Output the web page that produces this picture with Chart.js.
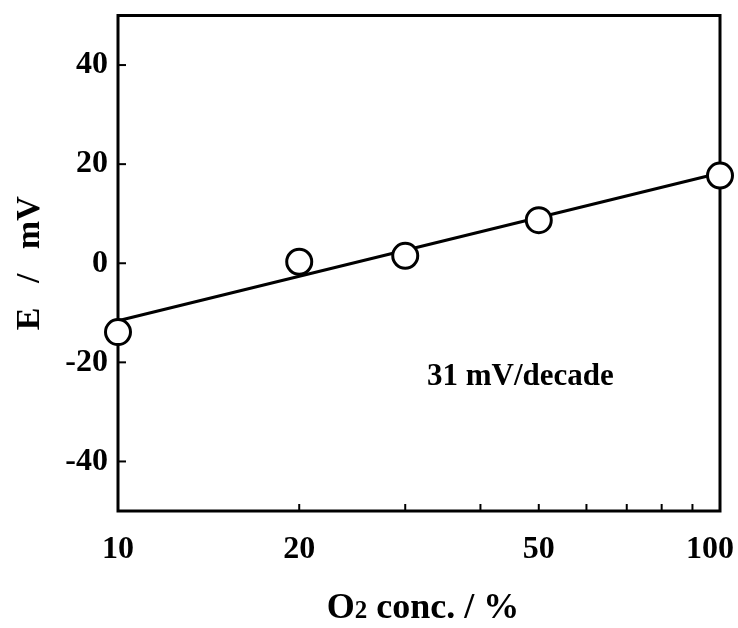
<!DOCTYPE html>
<html>
<head>
<meta charset="utf-8">
<script src="https://cdn.jsdelivr.net/npm/chart.js@4.4.1/dist/chart.umd.min.js"></script>
<style>
  html, body { margin: 0; padding: 0; background: #ffffff; }
  #c { display: block; }
</style>
</head>
<body>
<canvas id="c" width="738" height="628"></canvas>
<script>
// ---- data ----
const o2Concentrations = [10, 20, 30, 50, 100];      // %
const potentials = [-13.9, 0.3, 1.5, 8.7, 17.7];      // mV
const fitConcentrations = [10, 100];
const fitPotentials = [-11.6, 18.2];
const xTickValues = [10, 20, 50, 100];
const xTickLabels = ['10', '20', '50', '100'];
const xMinorTickValues = [20, 30, 40, 50, 60, 70, 80, 90];
const yTickValues = [40, 20, 0, -20, -40];
const yTickLabels = ['40', '20', '0', '-20', '-40'];
const xAxisTitleMain = 'O';
const xAxisTitleSub = '2';
const xAxisTitleRest = ' conc. / %';
const yAxisTitle = 'E / mV';
const slopeLabel = '31 mV/decade';
const slopeLabelAt = { x: 32.6, y: -23 };

const FONT = '"Liberation Serif", "Times New Roman", serif';

const framePlugin = {
  id: 'frame',
  beforeDatasetsDraw(chart) {
    const { ctx, chartArea: a, scales } = chart;
    ctx.save();
    ctx.strokeStyle = '#000';
    ctx.lineWidth = 3;
    ctx.lineCap = 'square';
    ctx.strokeRect(a.left, a.top, a.right - a.left, a.bottom - a.top);
    ctx.lineWidth = 2;
    ctx.lineCap = 'butt';
    // left ticks (inward)
    yTickValues.forEach(v => {
      const y = scales.y.getPixelForValue(v);
      ctx.beginPath();
      ctx.moveTo(a.left, y);
      ctx.lineTo(a.left + 8, y);
      ctx.stroke();
    });
    // bottom ticks (inward)
    xMinorTickValues.forEach(v => {
      const x = scales.x.getPixelForValue(v);
      ctx.beginPath();
      ctx.moveTo(x, a.bottom);
      ctx.lineTo(x, a.bottom - 7);
      ctx.stroke();
    });
    ctx.restore();
  },
  afterDraw(chart) {
    const { ctx, chartArea: a, scales } = chart;
    ctx.save();
    ctx.fillStyle = '#000';
    // y tick labels
    ctx.font = 'bold 32px ' + FONT;
    ctx.textAlign = 'right';
    ctx.textBaseline = 'middle';
    yTickValues.forEach((v, i) => {
      ctx.fillText(yTickLabels[i], a.left - 10, scales.y.getPixelForValue(v));
    });
    // x tick labels
    ctx.textAlign = 'left';
    xTickValues.forEach((v, i) => {
      const x = scales.x.getPixelForValue(v);
      const w = ctx.measureText(xTickLabels[i]).width;
      let left = x - w / 2;
      if (left + w > chart.width - 4) left = chart.width - 4 - w;
      ctx.fillText(xTickLabels[i], left, a.bottom + 39);
    });
    // x axis title with subscript-sized 2
    ctx.textBaseline = 'alphabetic';
    const mainFont = 'bold 36px ' + FONT;
    const subFont = 'bold 25px ' + FONT;
    ctx.font = mainFont;
    const w1 = ctx.measureText(xAxisTitleMain).width;
    const w3 = ctx.measureText(xAxisTitleRest).width;
    ctx.font = subFont;
    const w2 = ctx.measureText(xAxisTitleSub).width;
    const total = w1 + w2 + w3;
    let tx = (a.left + a.right) / 2 + 4 - total / 2;
    const ty = a.bottom + 107;
    ctx.font = mainFont;
    ctx.fillText(xAxisTitleMain, tx, ty);
    ctx.font = subFont;
    ctx.fillText(xAxisTitleSub, tx + w1, ty);
    ctx.font = mainFont;
    ctx.fillText(xAxisTitleRest, tx + w1 + w2, ty);
    // y axis title
    ctx.save();
    ctx.translate(39, (a.top + a.bottom) / 2);
    ctx.rotate(-Math.PI / 2);
    ctx.font = 'bold 34px ' + FONT;
    ctx.textAlign = 'center';
    ctx.textBaseline = 'alphabetic';
    if ('wordSpacing' in ctx) ctx.wordSpacing = '16px';
    ctx.fillText(yAxisTitle, 0, 0);
    ctx.restore();
    // slope annotation
    ctx.font = 'bold 31px ' + FONT;
    ctx.textAlign = 'left';
    ctx.textBaseline = 'middle';
    ctx.fillText(slopeLabel, scales.x.getPixelForValue(slopeLabelAt.x), scales.y.getPixelForValue(slopeLabelAt.y));
    ctx.restore();
  }
};

new Chart(document.getElementById('c'), {
  type: 'scatter',
  data: {
    datasets: [
      {
        label: 'measured',
        data: o2Concentrations.map((x, i) => ({ x: x, y: potentials[i] })),
        pointRadius: 12.5,
        pointHoverRadius: 12.5,
        pointBackgroundColor: '#ffffff',
        pointBorderColor: '#000000',
        pointBorderWidth: 3,
        showLine: false,
        clip: false,
        order: 0
      },
      {
        label: 'fit',
        data: fitConcentrations.map((x, i) => ({ x: x, y: fitPotentials[i] })),
        showLine: true,
        borderColor: '#000000',
        borderWidth: 3,
        pointRadius: 0,
        fill: false,
        clip: false,
        order: 1
      }
    ]
  },
  options: {
    responsive: false,
    animation: false,
    events: [],
    layout: { padding: { left: 118, top: 10, right: 18, bottom: 117 } },
    plugins: { legend: { display: false }, tooltip: { enabled: false } },
    scales: {
      x: { type: 'logarithmic', min: 10, max: 100, display: false },
      y: { type: 'linear', min: -50, max: 50, display: false }
    }
  },
  plugins: [framePlugin]
});
</script>
</body>
</html>
